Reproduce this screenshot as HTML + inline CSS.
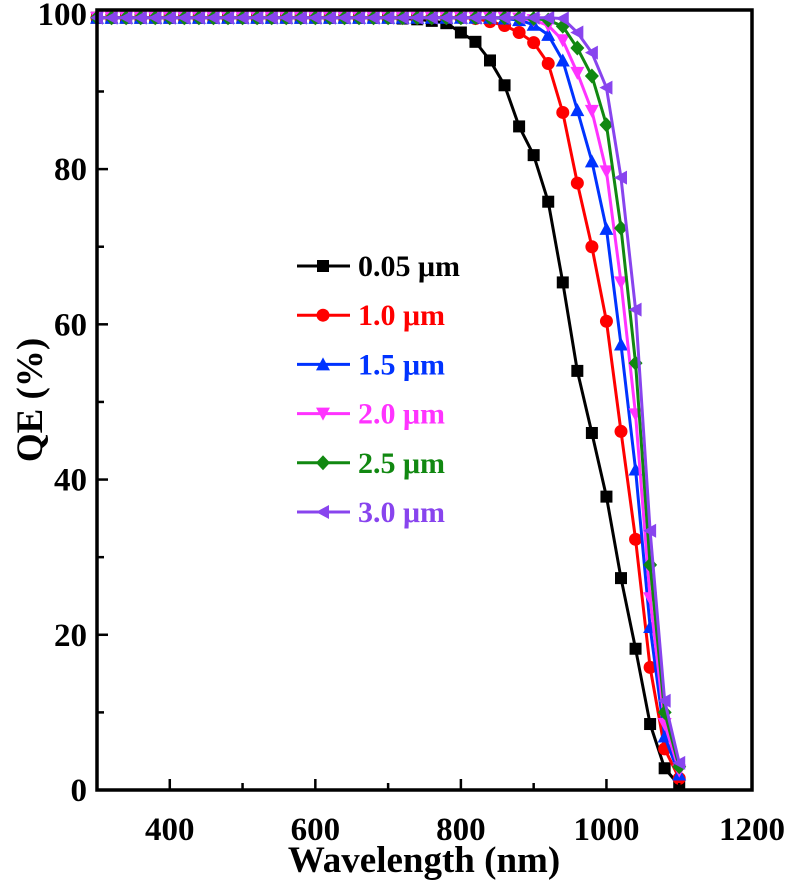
<!DOCTYPE html>
<html><head><meta charset="utf-8"><style>
html,body{margin:0;padding:0;background:#fff;}
svg{display:block;font-family:"Liberation Serif",serif;font-weight:bold;}
</style></head><body>
<svg id="chart" width="791" height="884" viewBox="0 0 791 884"></svg>
<script>
const wavelengths = [300,320,340,360,380,400,420,440,460,480,500,520,540,560,580,600,620,640,660,680,700,720,740,760,780,800,820,840,860,880,900,920,940,960,980,1000,1020,1040,1060,1080,1100];
const seriesNames = ["0.05 \u03bcm","1.0 \u03bcm","1.5 \u03bcm","2.0 \u03bcm","2.5 \u03bcm","3.0 \u03bcm"];
const flatHead = 99.5;
const tail005 = [99.5,99.4,99.3,99.1,98.8,97.6,96.4,94,90.8,85.5,81.8,75.8,65.4,54,46,37.8,27.3,18.2,8.5,2.8,0.6];
const tail10  = [99.5,99.5,99.5,99.5,99.5,99.5,99.4,99,98.5,97.6,96.3,93.6,87.3,78.2,70,60.4,46.2,32.3,15.8,5.3,1.5];
const tail15  = [99.5,99.5,99.5,99.5,99.5,99.5,99.5,99.5,99.4,99.2,98.6,97.3,94,87.6,81,72.3,57.4,41.3,21,6.9,2];
const tail20  = [99.5,99.5,99.5,99.5,99.5,99.5,99.5,99.5,99.5,99.4,99.2,98.5,96.6,92.4,87.5,79.7,65.4,48.4,24.7,8.5,2.5];
const tail25  = [99.5,99.5,99.5,99.5,99.5,99.5,99.5,99.5,99.5,99.5,99.4,99.2,98.4,95.6,92,85.7,72.4,55,29,10,3];
const tail30  = [99.5,99.5,99.5,99.5,99.5,99.5,99.5,99.5,99.5,99.5,99.5,99.5,99.4,97.6,95,90.5,78.9,61.9,33.4,11.5,3.5];
const tails = [tail005,tail10,tail15,tail20,tail25,tail30];
const colors = ["#000000","#ff0000","#0033ff","#ff33ff","#118811","#8844ee"];
const markers = ["square","circle","up","down","diamond","left"];
const xTicks = [400,600,800,1000,1200];
const yTicks = [0,20,40,60,80,100];

const L=97,R=752,T=10,B=790;
const x = w => L + (w-300)*(R-L)/900;
const y = v => B - v*(B-T)/100.5;
const NS="http://www.w3.org/2000/svg";
const svg=document.getElementById('chart');
function mk(tag,attrs,parent){const e=document.createElementNS(NS,tag);for(const k in attrs)e.setAttribute(k,attrs[k]);(parent||svg).appendChild(e);return e;}
function marker(type,cx,cy,c,g){
  const s=6;let e;
  if(type==="square") e=mk('rect',{x:cx-s,y:cy-s,width:2*s,height:2*s,fill:c},g);
  else if(type==="circle") e=mk('circle',{cx:cx,cy:cy,r:s+0.5,fill:c},g);
  else {
    let p;
    if(type==="up") p=[[cx,cy-s-1],[cx-s-1,cy+s],[cx+s+1,cy+s]];
    if(type==="down") p=[[cx,cy+s+1],[cx-s-1,cy-s],[cx+s+1,cy-s]];
    if(type==="diamond") p=[[cx,cy-s-1.5],[cx+s+1,cy],[cx,cy+s+1.5],[cx-s-1,cy]];
    if(type==="left") p=[[cx-s-1,cy],[cx+s,cy-s-1],[cx+s,cy+s+1]];
    e=mk('polygon',{points:p.map(q=>q.join(',')).join(' '),fill:c},g);
  }
  return e;
}
tails.forEach((t,i)=>{
  const vals = wavelengths.map((w,j)=> j < wavelengths.length - t.length ? flatHead : t[j-(wavelengths.length-t.length)]);
  const g=mk('g',{});
  
  
  const pl=mk('polyline',{points:wavelengths.map((w,j)=>x(w)+','+y(vals[j])).join(' '),fill:'none',stroke:colors[i],'stroke-width':3},g);
  
  
  wavelengths.forEach((w,j)=>{const m=marker(markers[i],x(w),y(vals[j]),colors[i],g);
    
    });
});
const fr=mk('rect',{x:L,y:T,width:R-L,height:B-T,fill:'none',stroke:'#000','stroke-width':3.5});


for(let w=400;w<=1100;w+=100){const len=(w%200===0)?11:7;
  const t=mk('line',{x1:x(w),x2:x(w),y1:B,y2:B-len,stroke:'#000','stroke-width':2.5});
  
  }
xTicks.forEach(w=>{const t=mk('text',{x:x(w),y:B+50,'text-anchor':'middle','font-size':33});t.textContent=w;
  
  });
for(let v=10;v<100;v+=10){const len=(v%20===0)?11:7;
  const t=mk('line',{x1:L,x2:L+len,y1:y(v),y2:y(v),stroke:'#000','stroke-width':2.5});
  
  }
yTicks.forEach(v=>{const t=mk('text',{x:L-10,y:y(v)+11,'text-anchor':'end','font-size':33});t.textContent=v;
  
  });
const xt=mk('text',{x:424,y:872,'text-anchor':'middle','font-size':37});xt.textContent='Wavelength (nm)';


const yt=mk('text',{x:0,y:0,'text-anchor':'middle','font-size':37,transform:'translate(42,400) rotate(-90)'});yt.textContent='QE (%)';


seriesNames.forEach((n,i)=>{const ly=266+i*49.2;
  const g=mk('g',{});
  
  
  mk('line',{x1:297,x2:350,y1:ly,y2:ly,stroke:colors[i],'stroke-width':3},g);
  marker(markers[i],323,ly,colors[i],g);
  const t=mk('text',{x:358,y:ly+10,'font-size':30,fill:colors[i]},g);t.textContent=n;});
</script>
</body></html>
